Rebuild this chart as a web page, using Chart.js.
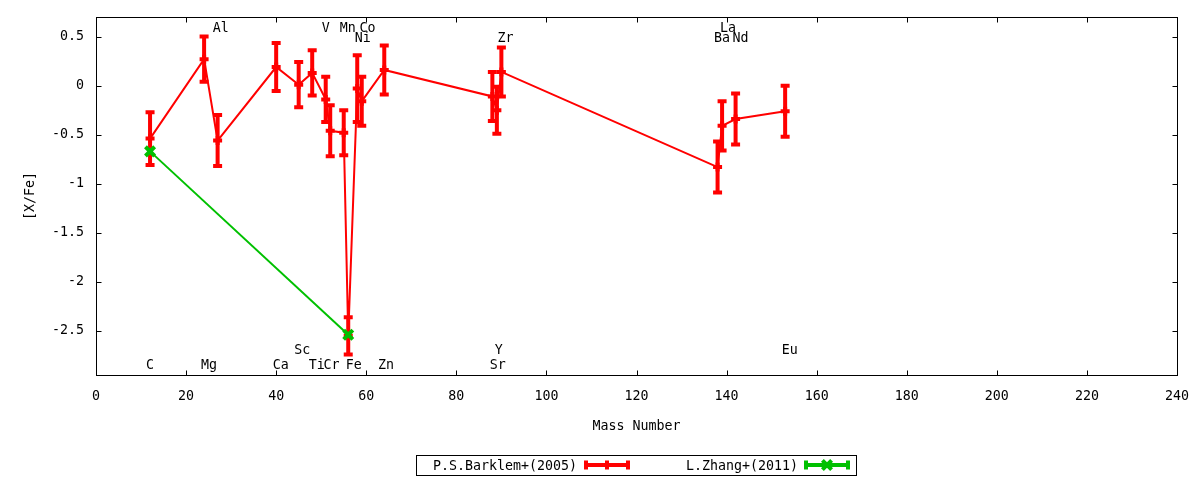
<!DOCTYPE html>
<html>
<head>
<meta charset="utf-8">
<script src="https://cdn.jsdelivr.net/npm/chart.js@4"></script>
<style>
  html, body { margin: 0; padding: 0; background: #fff; }
  canvas { display: block; }
</style>
</head>
<body>
<canvas id="chart" width="1200" height="480"></canvas>
<script>
/* global Chart */

// P.S.Barklem+(2005): mass number, [X/Fe], error
const barklemMass = [12, 24, 27, 40, 45, 48, 51, 52, 55, 56, 58, 59, 64, 88, 89, 90, 138, 139, 142, 153];
const barklemXFe = [-0.54, 0.27, -0.56, 0.19, 0.01, 0.13, -0.14, -0.46, -0.48, -2.55, -0.03, -0.16, 0.16, -0.11, -0.25, 0.14, -0.83, -0.41, -0.34, -0.26];
const barklemErr = [0.27, 0.23, 0.26, 0.245, 0.23, 0.23, 0.23, 0.26, 0.23, 0.19, 0.34, 0.25, 0.25, 0.25, 0.24, 0.25, 0.26, 0.25, 0.26, 0.26];

// L.Zhang+(2011)
const zhangMass = [12, 56];
const zhangXFe = [-0.67, -2.54];
const zhangErr = [0, 0];

// element name labels (in data coordinates)
const elementNames = ['C', 'Mg', 'Al', 'Ca', 'Sc', 'Ti', 'V', 'Cr', 'Mn', 'Fe', 'Ni', 'Co', 'Zn', 'Sr', 'Y', 'Zr', 'Ba', 'La', 'Nd', 'Eu'];
const elementLabelX = [12.0, 25.1, 27.7, 41.0, 45.8, 49.0, 51.0, 52.3, 55.9, 57.2, 59.2, 60.3, 64.4, 89.2, 89.4, 90.9, 139.0, 140.3, 143.1, 154.0];
const elementLabelY = [-2.84, -2.84, 0.59, -2.84, -2.69, -2.84, 0.59, -2.84, 0.59, -2.84, 0.49, 0.59, -2.84, -2.84, -2.69, 0.49, 0.49, 0.59, 0.49, -2.69];

const xTicks = [0, 20, 40, 60, 80, 100, 120, 140, 160, 180, 200, 220, 240];
const yTicks = [0.5, 0, -0.5, -1, -1.5, -2, -2.5];

const FONT = "'DejaVu Sans Mono', monospace";
const RED = '#ff0000';
const GREEN = '#00c000';

Chart.defaults.font.family = FONT;
Chart.defaults.font.size = 13.3;
Chart.defaults.color = '#000';

const toPoints = (xs, ys) => xs.map((x, i) => ({ x: x, y: ys[i] }));

// vertical error bars with caps, drawn right after each dataset
const errorBars = {
  id: 'errorBars',
  afterDatasetDraw(chart, args) {
    const ds = chart.data.datasets[args.index];
    if (!ds.errors) return;
    const ctx = chart.ctx;
    const yScale = chart.scales.y;
    ctx.save();
    ctx.strokeStyle = ds.borderColor;
    ctx.lineWidth = 4;
    args.meta.data.forEach((pt, i) => {
      const e = ds.errors[i];
      if (!e) return;
      const v = ds.data[i].y;
      const top = yScale.getPixelForValue(v + e);
      const bot = yScale.getPixelForValue(v - e);
      ctx.beginPath();
      ctx.moveTo(pt.x, top);
      ctx.lineTo(pt.x, bot);
      ctx.moveTo(pt.x - 4.5, top);
      ctx.lineTo(pt.x + 4.5, top);
      ctx.moveTo(pt.x - 4.5, bot);
      ctx.lineTo(pt.x + 4.5, bot);
      ctx.stroke();
    });
    ctx.restore();
  }
};

// gnuplot-like frame with inward (mirrored) tics
const frame = {
  id: 'frame',
  afterDraw(chart) {
    const { ctx, chartArea: a, scales } = chart;
    const L = a.left + 0.5, R = a.right + 0.5, T = a.top + 0.5, B = a.bottom + 0.5;
    ctx.save();
    ctx.strokeStyle = '#000';
    ctx.lineWidth = 1;
    ctx.strokeRect(L, T, R - L, B - T);
    ctx.beginPath();
    xTicks.forEach(v => {
      const px = Math.round(scales.x.getPixelForValue(v)) + 0.5;
      ctx.moveTo(px, B); ctx.lineTo(px, B - 5);
      ctx.moveTo(px, T); ctx.lineTo(px, T + 5);
    });
    yTicks.forEach(v => {
      const py = Math.round(scales.y.getPixelForValue(v)) + 0.5;
      ctx.moveTo(L, py); ctx.lineTo(L + 5, py);
      ctx.moveTo(R, py); ctx.lineTo(R - 5, py);
    });
    ctx.stroke();
    ctx.restore();
  }
};

const elementLabels = {
  id: 'elementLabels',
  afterDatasetsDraw(chart) {
    const { ctx, scales } = chart;
    ctx.save();
    ctx.font = '13.3px ' + FONT;
    ctx.fillStyle = '#000';
    ctx.textAlign = 'center';
    ctx.textBaseline = 'middle';
    elementNames.forEach((name, i) => {
      ctx.fillText(name, scales.x.getPixelForValue(elementLabelX[i]), scales.y.getPixelForValue(elementLabelY[i]) + 1);
    });
    ctx.restore();
  }
};

// boxed legend under the plot, gnuplot style
const boxLegend = {
  id: 'boxLegend',
  afterDraw(chart) {
    const ctx = chart.ctx;
    const cy = 465;
    ctx.save();
    ctx.strokeStyle = '#000';
    ctx.lineWidth = 1;
    ctx.strokeRect(416.5, 455.5, 440, 20);
    ctx.font = '13.3px ' + FONT;
    ctx.textAlign = 'right';
    ctx.textBaseline = 'middle';
    const entries = [
      { textRight: 577, x0: 586, x1: 628 },
      { textRight: 798, x0: 806, x1: 848 }
    ];
    chart.data.datasets.forEach((ds, i) => {
      const e = entries[i];
      ctx.fillStyle = '#000';
      ctx.fillText(ds.label, e.textRight, cy + 1.5);
      ctx.strokeStyle = ds.borderColor;
      ctx.lineWidth = 4;
      ctx.beginPath();
      ctx.moveTo(e.x0, cy); ctx.lineTo(e.x1, cy);
      ctx.moveTo(e.x0, cy - 4.5); ctx.lineTo(e.x0, cy + 4.5);
      ctx.moveTo(e.x1, cy - 4.5); ctx.lineTo(e.x1, cy + 4.5);
      ctx.stroke();
      Chart.helpers.drawPoint(ctx, {
        pointStyle: ds.pointStyle, radius: ds.pointRadius, borderWidth: 4, rotation: 0
      }, (e.x0 + e.x1) / 2, cy);
    });
    ctx.restore();
  }
};

new Chart(document.getElementById('chart'), {
  type: 'line',
  data: {
    datasets: [{
      label: 'P.S.Barklem+(2005)',
      data: toPoints(barklemMass, barklemXFe),
      errors: barklemErr,
      borderColor: RED,
      backgroundColor: RED,
      borderWidth: 2,
      pointStyle: 'cross',
      pointRadius: 4.5,
      pointBorderWidth: 4,
      tension: 0,
      order: 1
    }, {
      label: 'L.Zhang+(2011)',
      data: toPoints(zhangMass, zhangXFe),
      errors: zhangErr,
      borderColor: GREEN,
      backgroundColor: GREEN,
      borderWidth: 2,
      pointStyle: 'crossRot',
      pointRadius: 6.5,
      pointBorderWidth: 4,
      tension: 0,
      order: 0
    }]
  },
  options: {
    responsive: false,
    devicePixelRatio: 1,
    animation: false,
    events: [],
    layout: { padding: { top: 17, right: 23, left: 0, bottom: 0 } },
    scales: {
      x: {
        type: 'linear',
        min: 0,
        max: 240,
        afterBuildTicks: s => { s.ticks = xTicks.map(v => ({ value: v })); },
        afterFit: s => { s.height = 105; s.paddingLeft = 0; s.paddingRight = 0; },
        ticks: { padding: 14, autoSkip: false, maxRotation: 0, callback: v => String(v) },
        grid: { display: false, drawTicks: false },
        border: { display: false },
        title: { display: true, text: 'Mass Number', padding: { top: 0, bottom: 45 } }
      },
      y: {
        type: 'linear',
        min: -2.95,
        max: 0.7,
        afterBuildTicks: s => { s.ticks = yTicks.map(v => ({ value: v })); },
        afterFit: s => { s.width = 96; s.paddingTop = 0; s.paddingBottom = 0; },
        ticks: { padding: 12, callback: v => String(v) },
        grid: { display: false, drawTicks: false },
        border: { display: false },
        title: { display: true, text: '[X/Fe]', padding: { top: 23, bottom: 0 } }
      }
    },
    plugins: {
      legend: { display: false },
      tooltip: { enabled: false }
    }
  },
  plugins: [errorBars, frame, elementLabels, boxLegend]
});
</script>
</body>
</html>
